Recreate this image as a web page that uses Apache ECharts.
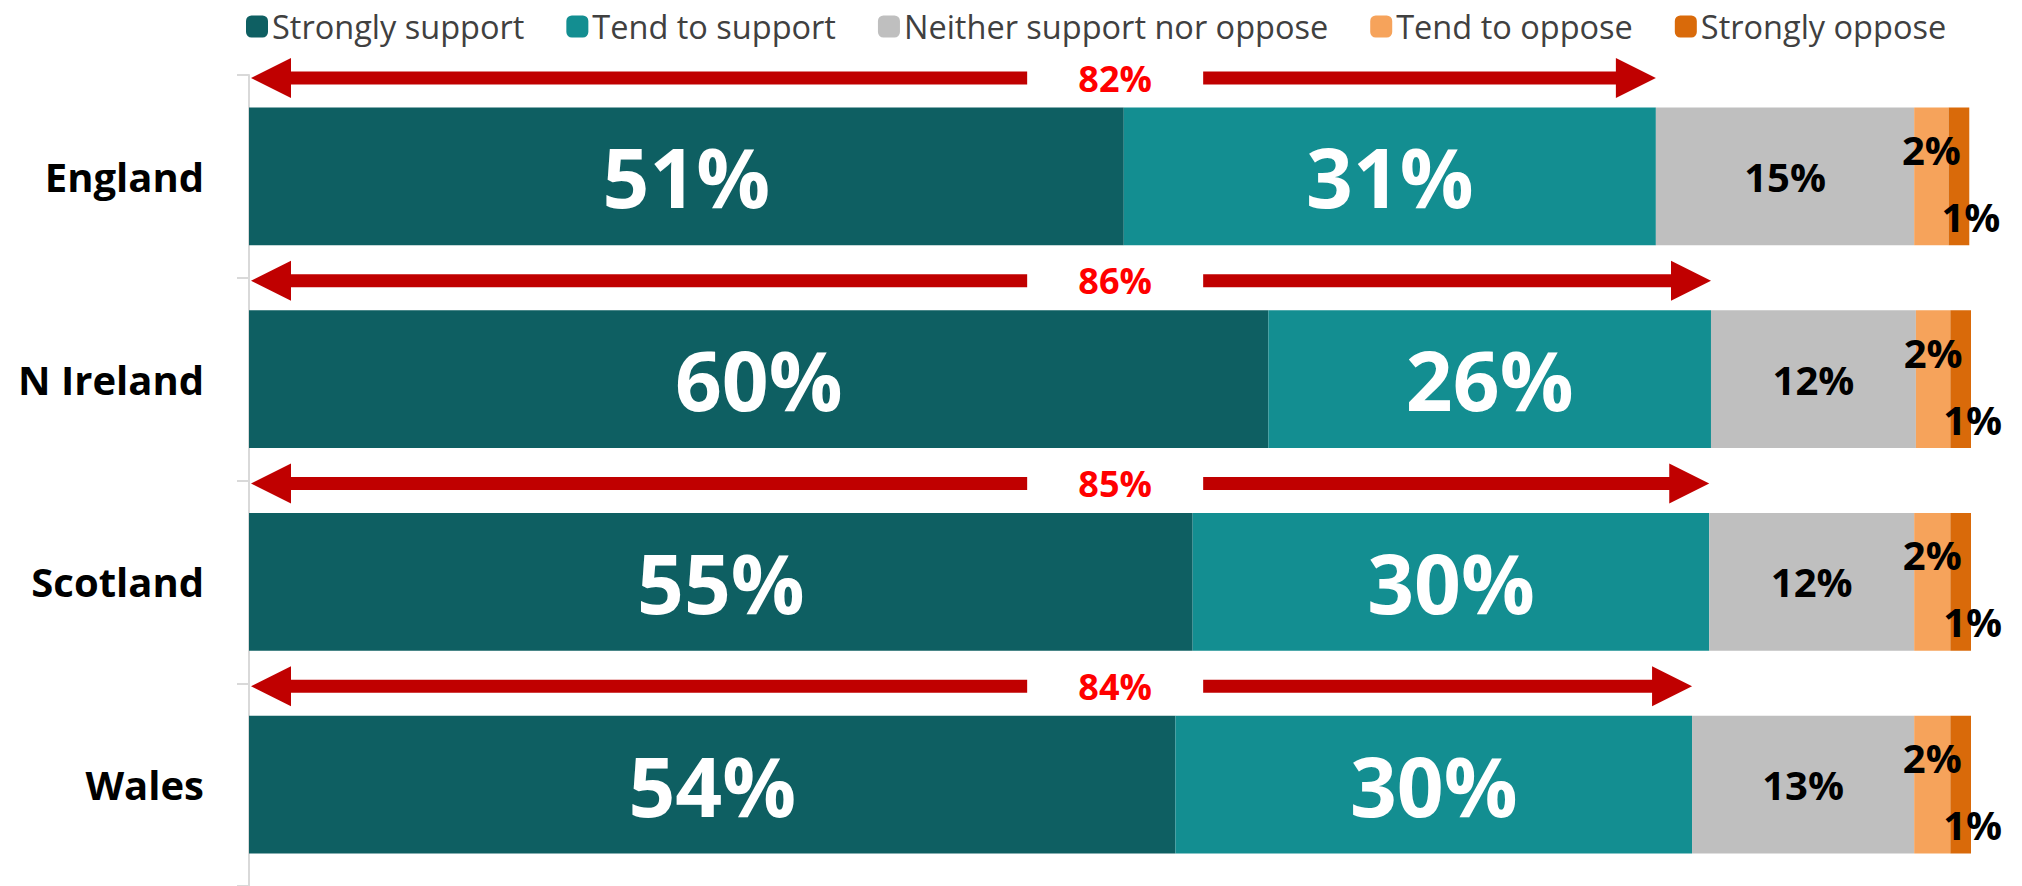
<!DOCTYPE html>
<html>
<head>
<meta charset="utf-8">
<script src="https://cdn.jsdelivr.net/npm/echarts@6/dist/echarts.min.js"></script>
<style>
  html, body { margin: 0; padding: 0; background: #ffffff; }
  #chart { width: 2022px; height: 886px; }
</style>
</head>
<body>
<div id="chart"></div>
<script>
// ---- Data ----
const categories = ['England', 'N Ireland', 'Scotland', 'Wales'];
const seriesNames = ['Strongly support', 'Tend to support', 'Neither support nor oppose', 'Tend to oppose', 'Strongly oppose'];
// Bar lengths (share of the full bar, %)
const stronglySupport = [50.8, 59.2, 54.8, 53.8];
const tendSupport     = [30.9, 25.7, 30.0, 30.0];
const neither         = [15.0, 11.9, 11.9, 12.9];
const tendOppose      = [2.0, 2.0, 2.1, 2.1];
const stronglyOppose  = [1.2, 1.2, 1.2, 1.2];
// Printed labels (%)
const stronglySupportLabels = [51, 60, 55, 54];
const tendSupportLabels     = [31, 26, 30, 30];
const neitherLabels         = [15, 12, 12, 13];
const tendOpposeLabels      = [2, 2, 2, 2];
const stronglyOpposeLabels  = [1, 1, 1, 1];
const netSupportLabels      = [82, 86, 85, 84];

// ---- Styling ----
const colors = ['#0e5f62', '#138e91', '#bfbfbf', '#f6a35b', '#d96a0a'];
const FONT = "'Open Sans', 'DejaVu Sans', sans-serif";
const NET_LABEL_X = 50.3;   // where the net-support label sits on the value axis
const ARROW_COLOR = '#c00000';
const NET_TEXT_COLOR = '#ff0000';

const chart = echarts.init(document.getElementById('chart'), null, { renderer: 'svg' });

function barSeries(i, values, labels, labelStyle) {
  return {
    name: seriesNames[i],
    type: 'bar',
    stack: 'total',
    barWidth: '68%',
    data: values,
    itemStyle: { color: colors[i] },
    emphasis: { disabled: true },
    label: Object.assign({
      show: true,
      position: 'inside',
      fontFamily: FONT,
      fontWeight: 'bold',
      formatter: p => labels[p.dataIndex] + '%'
    }, labelStyle)
  };
}

const arrowData = categories.map((c, i) => [i, stronglySupport[i] + tendSupport[i], netSupportLabels[i]]);

const arrowSeries = {
  type: 'custom',
  name: 'net',
  silent: true,
  z: 10,
  data: arrowData,
  encode: { x: 1, y: 0 },
  renderItem: function (params, api) {
    const idx = api.value(0);
    const total = api.value(1);
    const label = api.value(2);
    const start = api.coord([0, idx]);
    const end = api.coord([total, idx]);
    const mid = api.coord([NET_LABEL_X, idx]);
    const band = api.size([0, 1])[1];
    const y = start[1] - band * 0.485;
    const x0 = start[0] + 2;
    const x1 = end[0];
    const headL = 40, headH = 20, shaft = 6.5, gap = 88;
    return {
      type: 'group',
      children: [
        { type: 'polygon', shape: { points: [[x0, y], [x0 + headL, y - headH], [x0 + headL, y + headH]] }, style: { fill: ARROW_COLOR } },
        { type: 'rect', shape: { x: x0 + headL - 1, y: y - shaft, width: (mid[0] - gap) - (x0 + headL - 1), height: shaft * 2 }, style: { fill: ARROW_COLOR } },
        { type: 'rect', shape: { x: mid[0] + gap, y: y - shaft, width: (x1 - headL + 1) - (mid[0] + gap), height: shaft * 2 }, style: { fill: ARROW_COLOR } },
        { type: 'polygon', shape: { points: [[x1, y], [x1 - headL, y - headH], [x1 - headL, y + headH]] }, style: { fill: ARROW_COLOR } },
        { type: 'text', x: mid[0], y: y, style: { text: label + '%', fill: NET_TEXT_COLOR, font: 'bold 36px ' + FONT, align: 'center', verticalAlign: 'middle' } }
      ]
    };
  }
};

const option = {
  backgroundColor: '#ffffff',
  animation: false,
  textStyle: { fontFamily: FONT },
  legend: {
    data: seriesNames,
    left: 241,
    top: 5,
    itemWidth: 22,
    itemHeight: 22,
    itemGap: 42,
    icon: 'roundRect',
    textStyle: { fontFamily: FONT, fontSize: 32.5, color: '#404040', padding: [0, 0, 0, -1] }
  },
  grid: { left: 249, right: 51, top: 75, bottom: 0, containLabel: false },
  xAxis: {
    type: 'value',
    min: 0,
    max: 100,
    show: false
  },
  yAxis: {
    type: 'category',
    data: categories,
    inverse: true,
    axisLine: { show: true, lineStyle: { color: '#d9d9d9', width: 2 } },
    axisTick: { show: true, length: 12, lineStyle: { color: '#d9d9d9', width: 2 } },
    axisLabel: { fontFamily: FONT, fontSize: 40, fontWeight: 'bold', color: '#000000', margin: 45 }
  },
  series: [
    barSeries(0, stronglySupport, stronglySupportLabels, { color: '#ffffff', fontSize: 82 }),
    barSeries(1, tendSupport, tendSupportLabels, { color: '#ffffff', fontSize: 82 }),
    barSeries(2, neither, neitherLabels, { color: '#000000', fontSize: 40 }),
    barSeries(3, tendOppose, tendOpposeLabels, { color: '#000000', fontSize: 40, offset: [0, -27] }),
    barSeries(4, stronglyOppose, stronglyOpposeLabels, { color: '#000000', fontSize: 40, offset: [12, 40] }),
    arrowSeries
  ]
};

chart.setOption(option);
</script>
</body>
</html>
